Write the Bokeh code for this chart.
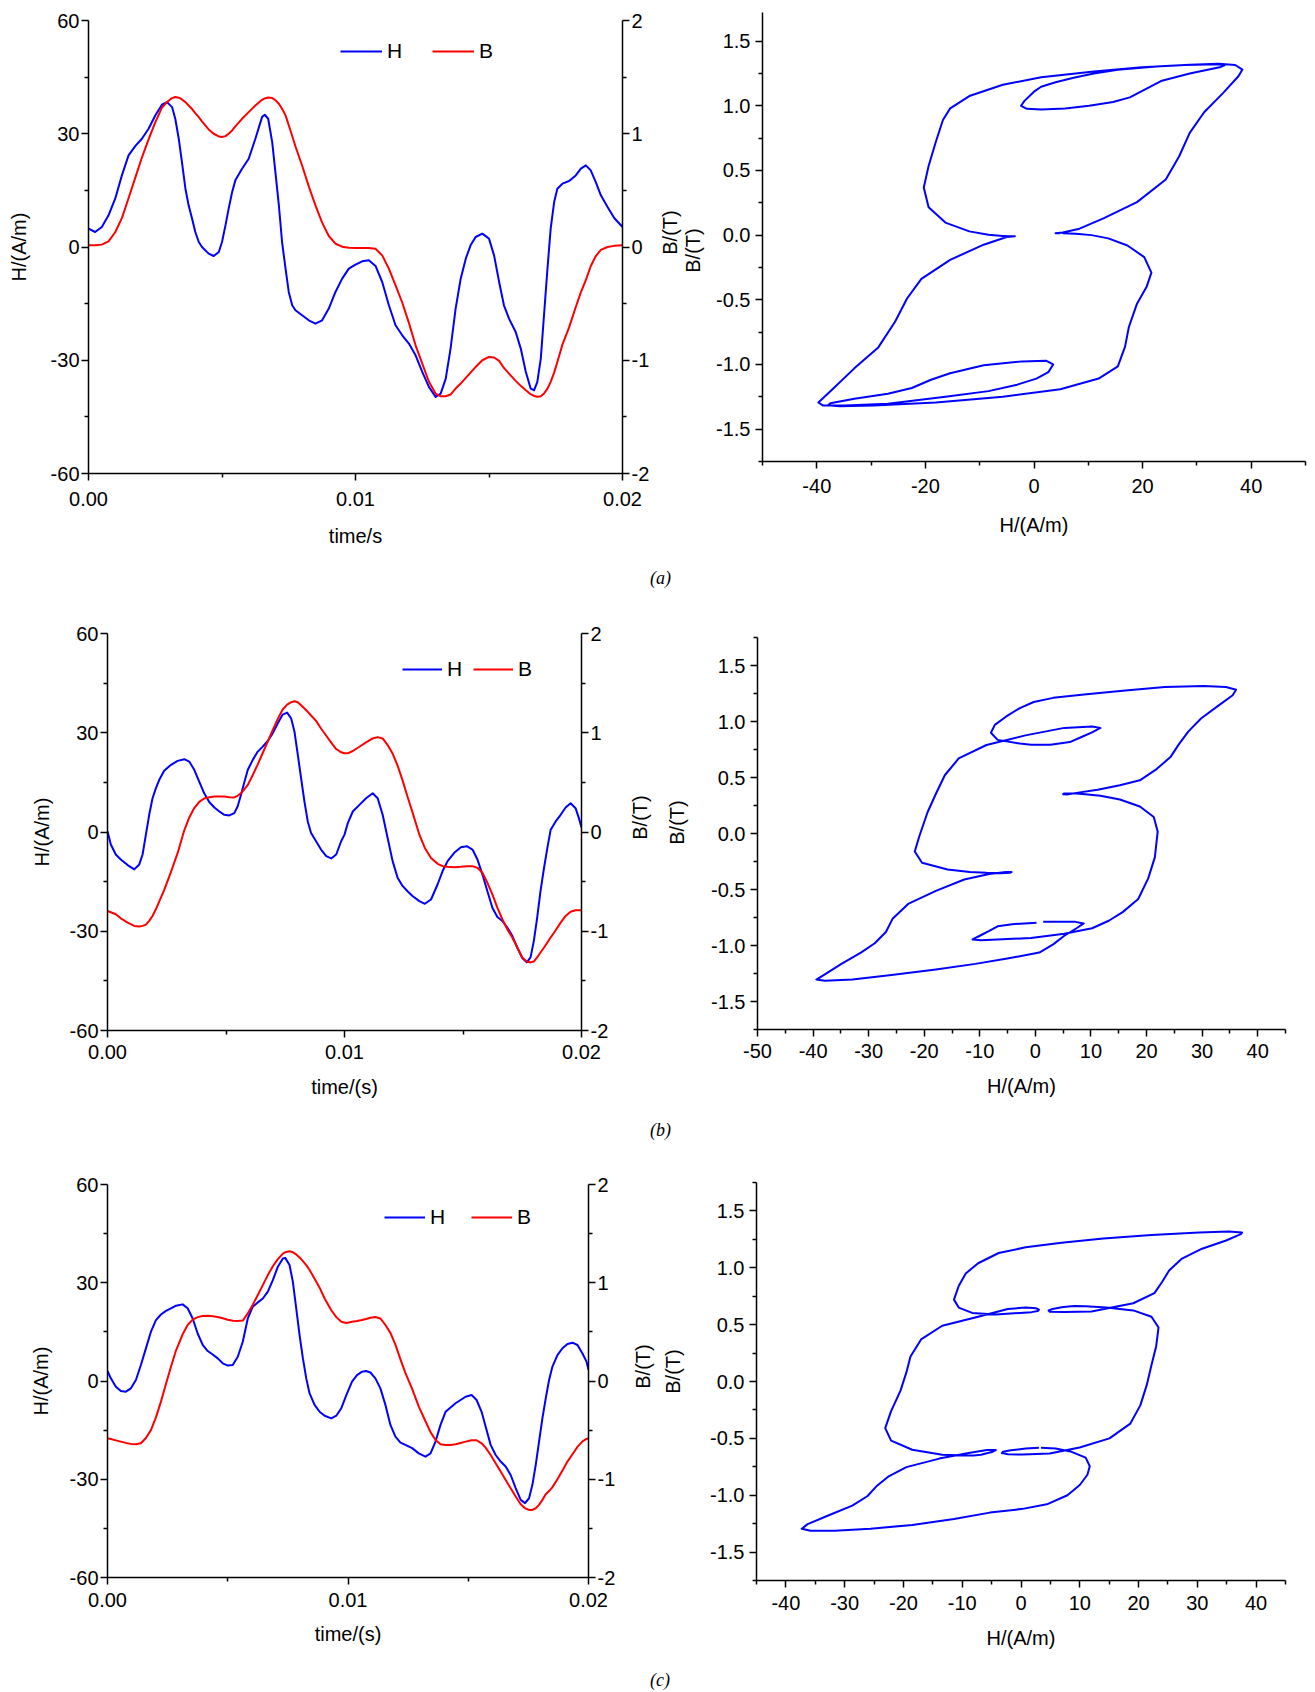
import math
from bokeh.plotting import figure
from bokeh.models import (Range1d, LinearAxis, FixedTicker, PrintfTickFormatter,
                          Legend, LegendItem, Div)
from bokeh.core.properties import value
from bokeh.layouts import row, column
from bokeh.embed import file_html
from bokeh.resources import INLINE

FONT = "Liberation Sans"
BLUE = "#0000FF"
RED = "#FF0000"

# ---------------- data (a) ----------------
t_a = [0.0, 0.00025, 0.0005, 0.00075, 0.001, 0.00125, 0.0015, 0.00175, 0.002, 0.00225,
       0.0025, 0.00275, 0.00294, 0.00313, 0.00325, 0.00338, 0.0035, 0.00363, 0.00375, 0.00388,
       0.004, 0.00413, 0.00425, 0.0045, 0.00469, 0.00488, 0.005, 0.00513, 0.00525, 0.00538,
       0.0055, 0.00575, 0.006, 0.00625, 0.0065, 0.0066, 0.00673, 0.00688, 0.007, 0.00713,
       0.00725, 0.00738, 0.0075, 0.00763, 0.00775, 0.008, 0.00825, 0.0085, 0.00875, 0.009,
       0.00925, 0.0095, 0.00975,
       0.01, 0.01025, 0.0105, 0.01075, 0.011, 0.01125, 0.0115, 0.01175, 0.012, 0.01225,
       0.0125, 0.01275, 0.013, 0.01319, 0.01338, 0.01356, 0.01375, 0.01394, 0.01413, 0.01431,
       0.0145, 0.01475, 0.015, 0.01519, 0.01538, 0.01556, 0.01575, 0.016, 0.01619, 0.01638,
       0.01656, 0.01669, 0.01681, 0.01694, 0.01706, 0.01719, 0.01731, 0.01744, 0.01756, 0.01775,
       0.018, 0.01825, 0.01844, 0.01863, 0.01881, 0.019, 0.01919, 0.01944, 0.01969, 0.02]
H_a = [4.85, 3.97, 5.29, 8.38, 12.79, 18.97, 24.27, 26.74, 28.68, 31.33,
       34.85, 37.68, 38.38, 37.06, 33.97, 28.68, 22.5, 15.44, 11.03, 7.5,
       3.97, 1.32, 0.0, -1.76, -2.38, -1.32, 1.32, 5.74, 10.15, 14.56,
       17.65, 20.74, 23.38, 28.68, 34.41, 35.03, 33.97, 27.8, 19.85, 11.03,
       1.32, -5.74, -11.91, -15.44, -16.77, -18.09, -19.41, -20.3, -19.41, -16.32,
       -11.91, -8.38, -5.74,
       -4.68, -3.79, -3.53, -5.03, -9.27, -15.44, -20.74, -23.38, -25.59, -28.68,
       -33.09, -37.06, -39.71, -38.83, -34.85, -26.91, -16.32, -8.38, -3.09, 0.44,
       2.65, 3.53, 2.21, -2.21, -9.27, -15.44, -18.97, -22.5, -26.91, -33.09,
       -37.5, -37.94, -35.74, -29.56, -18.09, -5.74, 4.85, 11.91, 15.44, 16.77,
       17.47, 18.97, 20.74, 21.62, 20.3, 17.21, 13.68, 10.59, 7.68, 5.29]
B_a = [0.015, 0.015, 0.021, 0.05, 0.13, 0.255, 0.43, 0.61, 0.79, 0.95,
       1.1, 1.23, 1.28, 1.315, 1.325, 1.318, 1.303, 1.279, 1.25, 1.218,
       1.182, 1.147, 1.109, 1.038, 1.0, 0.976, 0.971, 0.979, 1.0, 1.029,
       1.065, 1.132, 1.191, 1.25, 1.3, 1.312, 1.32, 1.315, 1.297, 1.265,
       1.221, 1.162, 1.075, 0.98, 0.89, 0.72, 0.535, 0.368, 0.215, 0.097,
       0.029, 0.003, -0.006,
       -0.009, -0.009, -0.009, -0.015, -0.074, -0.191, -0.338, -0.49, -0.67, -0.868,
       -1.03, -1.19, -1.294, -1.318, -1.318, -1.303, -1.25, -1.206, -1.156, -1.109,
       -1.059, -1.0, -0.971, -0.976, -1.006, -1.068, -1.118, -1.182, -1.226, -1.265,
       -1.3, -1.315, -1.323, -1.318, -1.294, -1.25, -1.191, -1.109, -1.015, -0.862,
       -0.71, -0.53, -0.4, -0.29, -0.17, -0.08, -0.025, 0.0, 0.01, 0.015]

# ---------------- data (b) ----------------
t_b = [0.0, 0.00014, 0.00035, 0.00056, 0.00085, 0.00113, 0.00134, 0.00148, 0.00162, 0.00176,
       0.0019, 0.00204, 0.00218, 0.00239, 0.00268, 0.00296, 0.00324, 0.00345, 0.00366, 0.00387,
       0.00408, 0.0043, 0.00451, 0.00472, 0.00493, 0.00514, 0.00535, 0.00549, 0.00563, 0.00578,
       0.00592, 0.00613, 0.00634, 0.00655, 0.00676, 0.00697, 0.00718, 0.00739, 0.00758, 0.00775,
       0.00789, 0.00803, 0.00817, 0.00831, 0.00845, 0.00859, 0.0088, 0.00901, 0.00923, 0.00944,
       0.00965, 0.00986,
       0.01, 0.01014, 0.01035, 0.01063, 0.01091, 0.01119, 0.0114, 0.01161, 0.01182, 0.01203,
       0.01224, 0.01245, 0.01266, 0.01288, 0.01316, 0.01339, 0.01365, 0.01393, 0.01414, 0.01435,
       0.01463, 0.01491, 0.01516, 0.0154, 0.01561, 0.01582, 0.01603, 0.01624, 0.01645, 0.01666,
       0.01687, 0.01708, 0.01729, 0.0175, 0.01769, 0.01785, 0.01799, 0.01813, 0.01827, 0.01842,
       0.01856, 0.0187, 0.01891, 0.01912, 0.01933, 0.01954, 0.01975, 0.01989, 0.02]
H_b = [0.2, -3.8, -6.8, -8.3, -10.0, -11.3, -9.8, -6.8, -0.8, 5.2,
       10.2, 13.2, 15.7, 18.5, 20.3, 21.5, 22.0, 21.3, 18.8, 15.2,
       11.7, 9.0, 7.4, 6.2, 5.2, 5.0, 5.7, 7.7, 11.2, 15.2,
       18.8, 21.8, 24.3, 25.8, 27.5, 29.8, 32.8, 35.5, 36.1, 34.3,
       30.3, 23.3, 16.2, 9.2, 3.2, -0.3, -2.8, -5.3, -7.3, -8.0,
       -6.8, -2.8,
       -0.8, 2.7, 6.2, 8.2, 10.2, 11.7, 10.2, 5.2, -1.8, -8.8,
       -13.8, -16.3, -17.9, -19.4, -20.9, -21.7, -20.4, -15.8, -11.8, -8.8,
       -6.3, -4.6, -4.3, -5.3, -8.3, -12.8, -17.9, -22.9, -25.7, -26.9,
       -28.9, -31.4, -34.9, -38.1, -39.4, -37.9, -32.9, -25.9, -17.9, -10.8,
       -4.8, 0.7, 3.2, 5.2, 7.4, 8.7, 7.2, 4.2, 1.4]
B_b = [-0.796, -0.809, -0.829, -0.87, -0.913, -0.946, -0.953, -0.946, -0.933, -0.896,
       -0.846, -0.779, -0.702, -0.585, -0.401, -0.211, 0.017, 0.147, 0.241, 0.304,
       0.338, 0.351, 0.358, 0.358, 0.358, 0.351, 0.348, 0.365, 0.391, 0.431,
       0.475, 0.575, 0.682, 0.796, 0.91, 1.027, 1.137, 1.234, 1.284, 1.308,
       1.318, 1.308, 1.277, 1.244, 1.211, 1.174, 1.12, 1.043, 0.97, 0.9,
       0.836, 0.803,
       0.793, 0.793, 0.816, 0.859, 0.903, 0.943, 0.956, 0.943, 0.876, 0.79,
       0.67, 0.52, 0.355, 0.19, -0.027, -0.161, -0.261, -0.321, -0.344, -0.351,
       -0.354, -0.351, -0.344, -0.344, -0.361, -0.411, -0.512, -0.629, -0.762, -0.879,
       -0.98, -1.063, -1.164, -1.264, -1.304, -1.314, -1.304, -1.264, -1.214, -1.164,
       -1.114, -1.063, -0.99, -0.913, -0.846, -0.803, -0.789, -0.789, -0.789]

# ---------------- data (c) ----------------
t_c = [0.0, 0.000139, 0.000347, 0.000556, 0.000764, 0.000972, 0.001181, 0.001389, 0.001597, 0.001806,
       0.002014, 0.002222, 0.002431, 0.002639, 0.002847, 0.003125, 0.003333, 0.003542, 0.00375, 0.003958,
       0.004167, 0.004375, 0.004583, 0.004792, 0.005, 0.005208, 0.005417, 0.005625, 0.005833, 0.006042,
       0.00625, 0.006458, 0.006667, 0.006875, 0.007083, 0.007292, 0.007389, 0.007569, 0.007708, 0.007847,
       0.007986, 0.008125, 0.008264, 0.008403, 0.008611, 0.008819, 0.009028, 0.009306, 0.009514, 0.009722,
       0.009931,
       0.010167, 0.010375, 0.010583, 0.01075, 0.010931, 0.011139, 0.011347, 0.011556, 0.011764, 0.011972,
       0.012181, 0.012389, 0.012667, 0.012944, 0.013222, 0.013431, 0.013639, 0.013847, 0.014056, 0.014264,
       0.014472, 0.014681, 0.014889, 0.015139, 0.015347, 0.015556, 0.015722, 0.015931, 0.016139, 0.016347,
       0.016556, 0.016764, 0.016972, 0.017181, 0.017361, 0.017528, 0.017667, 0.017806, 0.017944, 0.018083,
       0.018222, 0.018361, 0.0185, 0.018708, 0.018917, 0.019125, 0.019333, 0.019542, 0.01975, 0.019917,
       0.02]
H_c = [3.05, 0.81, -1.73, -3.05, -3.25, -2.24, 0.31, 4.88, 9.97, 15.05,
       18.6, 20.3, 21.4, 22.2, 23.0, 23.4, 22.2, 19.1, 14.5, 11.0,
       9.15, 8.1, 6.9, 5.4, 4.7, 4.9, 7.4, 12.0, 19.1, 22.7,
       24.0, 25.2, 27.3, 30.8, 34.9, 37.4, 37.6, 35.4, 30.3, 22.2,
       14.0, 6.9, 0.8, -3.8, -7.3, -9.4, -10.6, -11.4, -10.6, -8.3,
       -4.3,
       -0.2, 1.8, 2.85, 3.05, 2.6, 0.81, -2.24, -7.3, -13.4, -17.0,
       -18.8, -19.5, -20.5, -22.1, -23.1, -22.1, -18.5, -13.4, -9.4, -8.1,
       -6.8, -5.8, -4.8, -4.3, -5.8, -9.4, -13.9, -19.5, -22.6, -24.6,
       -26.1, -28.7, -32.7, -36.3, -37.3, -35.8, -31.7, -25.6, -18.5, -11.4,
       -5.3, 0.3, 4.4, 7.9, 10.0, 11.3, 11.7, 11.0, 8.4, 5.9,
       3.4]
B_c = [-0.583, -0.59, -0.604, -0.617, -0.63, -0.64, -0.643, -0.634, -0.58, -0.5,
       -0.37, -0.21, -0.03, 0.146, 0.31, 0.475, 0.57, 0.625, 0.65, 0.661,
       0.664, 0.66, 0.652, 0.638, 0.624, 0.613, 0.611, 0.615, 0.688, 0.777,
       0.875, 0.976, 1.078, 1.168, 1.24, 1.296, 1.31, 1.32, 1.31, 1.288,
       1.258, 1.22, 1.18, 1.13, 1.04, 0.95, 0.84, 0.72, 0.65, 0.603,
       0.59,
       0.603, 0.61, 0.62, 0.631, 0.644, 0.651, 0.637, 0.57, 0.49, 0.37,
       0.22, 0.08, -0.08, -0.26, -0.41, -0.52, -0.6, -0.644, -0.651, -0.651,
       -0.644, -0.631, -0.617, -0.603, -0.603, -0.634, -0.678, -0.753, -0.837, -0.922,
       -1.007, -1.092, -1.176, -1.254, -1.295, -1.312, -1.312, -1.295, -1.261, -1.21,
       -1.153, -1.12, -1.08, -1.0, -0.91, -0.82, -0.745, -0.67, -0.615, -0.59,
       -0.583]

# ---------------- ticks / labels ----------------
time_ticks = [0.0, 0.01, 0.02]
time_minor = [0.005, 0.015]
H_ticks = [-60, -30, 0, 30, 60]
H_minor = [-45, -15, 15, 45]
B_ticks = [-2, -1, 0, 1, 2]
B_minor = [-1.5, -0.5, 0.5, 1.5]
loopB_ticks = [-1.5, -1.0, -0.5, 0.0, 0.5, 1.0, 1.5]
loopB_minor = [-1.75, -1.25, -0.75, -0.25, 0.25, 0.75, 1.25, 1.75]
loopH_ticks_a = [-40, -20, 0, 20, 40]
loopH_minor_a = [-50, -30, -10, 10, 30, 50]
loopH_ticks_b = [-50, -40, -30, -20, -10, 0, 10, 20, 30, 40]
loopH_minor_b = [-45, -35, -25, -15, -5, 5, 15, 25, 35, 45]
loopH_ticks_c = [-40, -30, -20, -10, 0, 10, 20, 30, 40]
loopH_minor_c = [-45, -35, -25, -15, -5, 5, 15, 25, 35, 45]
B_title = "B/(T)"
H_title = "H/(A/m)"


def style_axis(ax, ticks, minor, fmt, label, std, lstd):
    ax.ticker = FixedTicker(ticks=ticks, minor_ticks=minor)
    ax.formatter = PrintfTickFormatter(format=fmt)
    ax.major_tick_in = 0
    ax.major_tick_out = 7
    ax.minor_tick_in = 0
    ax.minor_tick_out = 4
    ax.major_label_standoff = std
    ax.axis_label = label
    ax.axis_label_standoff = lstd
    ax.major_label_text_font = FONT
    ax.major_label_text_font_size = "20px"
    ax.major_label_text_color = "#000000"
    ax.axis_label_text_font = FONT
    ax.axis_label_text_font_size = "20px"
    ax.axis_label_text_font_style = "normal"
    ax.axis_label_text_color = "#000000"
    ax.axis_line_width = 1.5
    ax.axis_line_color = "#000000"
    ax.major_tick_line_width = 1.5
    ax.minor_tick_line_width = 1.5


def base_fig(w, h, l, r, t, b, xr, yr, mtop, axes=True):
    kw = {} if axes else {"x_axis_type": None, "y_axis_type": None}
    p = figure(width=w, height=h, min_border_left=l, min_border_right=r,
               min_border_top=t, min_border_bottom=b, x_range=xr, y_range=yr,
               output_backend="svg", toolbar_location=None,
               margin=(mtop, 0, 0, 0), **kw)
    p.xgrid.visible = False
    p.ygrid.visible = False
    p.outline_line_color = None
    p.background_fill_color = "white"
    p.border_fill_color = "white"
    return p


def title_strip(x0, x1, ytop, ybot, h, top, bot, texts):
    # narrow strip between the two panels of a row, holding the two vertical "B/(T)" titles;
    # its ranges are page pixels (y negated) so the titles sit where the reference has them
    p = base_fig(x1 - x0, h, 0, 0, top, bot, Range1d(x0, x1), Range1d(-ybot, -ytop), 0,
                 axes=False)
    xs = [tx for tx, ty in texts]
    ys = [-ty for tx, ty in texts]
    p.text(x=xs, y=ys, text=[B_title] * len(texts), angle=math.pi / 2,
           text_align="center", text_baseline="middle", text_font=value(FONT),
           text_font_size="20px", text_color="#000000")
    return p


def time_plot(t, H, B, w, h, l, r, top, bot, mtop, xlabel, xstd, xlstd, hlstd, leg):
    p = base_fig(w, h, l, r, top, bot, Range1d(0, 0.02), Range1d(-60, 60), mtop)
    p.extra_y_ranges = {"B": Range1d(-2, 2)}
    rax = LinearAxis(y_range_name="B")
    p.add_layout(rax, "right")
    style_axis(p.xaxis[0], time_ticks, time_minor, "%.2f", xlabel, xstd, xlstd)
    style_axis(p.yaxis[0], H_ticks, H_minor, "%d", H_title, 2, hlstd)
    style_axis(rax, B_ticks, B_minor, "%d", None, 2, 0)
    rH = p.line(t, H, line_color=BLUE, line_width=2, line_join="round")
    rB = p.line(t, B, line_color=RED, line_width=2, line_join="round", y_range_name="B")
    vx, vy, gw, sp = leg
    legend = Legend(items=[LegendItem(label="H", renderers=[rH]),
                           LegendItem(label="B", renderers=[rB])],
                    location=(vx, vy), orientation="horizontal",
                    glyph_width=gw, glyph_height=20, label_height=20,
                    label_standoff=5, spacing=sp, padding=0, margin=0,
                    border_line_color=None, background_fill_alpha=0,
                    label_text_font=FONT, label_text_font_size="21px",
                    label_text_color="#000000")
    p.add_layout(legend)
    return p


def loop_plot(H, B, w, h, l, r, top, bot, mtop, xr, yr, xt, xm, xstd, xlstd):
    p = base_fig(w, h, l, r, top, bot, Range1d(*xr), Range1d(*yr), mtop)
    style_axis(p.xaxis[0], xt, xm, "%d", H_title, xstd, xlstd)
    style_axis(p.yaxis[0], loopB_ticks, loopB_minor, "%.1f", None, 5, 0)
    p.line(H, B, line_color=BLUE, line_width=2, line_join="round")
    return p


def caption(txt, h, pad_top):
    html = ('<div style="font-family:\'Liberation Serif\',serif;font-style:italic;'
            'font-size:18px;line-height:20px;color:#000;padding-left:650px;'
            'padding-top:%dpx;white-space:nowrap">%s</div>' % (pad_top, txt))
    return Div(text=html, width=1307, height=h, margin=(0, 0, 0, 0))


# row (a): left frame x 88-622, y 20-473 ; strip 657-705 ; right frame x 762-1305, y 12-461
pa1 = time_plot(t_a, H_a, B_a, 657, 552, 88, 35, 12, 87, 8, "time/s", 11, 16, 18,
                (252, 410, 42, 25))
sa = title_strip(657, 705, 12, 461, 548, 12, 87, [(669, 232), (692.5, 250)])
pa2 = loop_plot(H_a, B_a, 602, 548, 57, 2, 12, 87, 0, (-50, 50), (-1.75, 1.721),
                loopH_ticks_a, loopH_minor_a, 10, 18)
# row (b): left frame x 107-581, y 633-1030 ; strip 614-700 ; right frame x 757-1285, y 637-1029
pb1 = time_plot(t_b, H_b, B_b, 614, 515, 107, 33, 38, 80, 0, "time/(s)", 7, 14, 14,
                (295, 349, 40, 6))
sb = title_strip(614, 700, 633, 1030, 515, 38, 80, [(639, 817), (676, 822)])
pb2 = loop_plot(H_b, B_b, 607, 510, 57, 22, 38, 80, 4, (-50, 45), (-1.75, 1.75),
                loopH_ticks_b, loopH_minor_b, 7, 14)
# row (c): left frame x 107-588, y 1184-1577 ; strip 621-699 ; right frame x 756-1285, y 1182-1580
pc1 = time_plot(t_c, H_c, B_c, 621, 509, 107, 33, 36, 80, 2, "time/(s)", 8, 13, 15,
                (277, 348, 41, 21))
sc = title_strip(621, 699, 1182, 1580, 514, 36, 80, [(642, 1366), (672.5, 1371)])
pc2 = loop_plot(H_c, B_c, 608, 514, 57, 22, 36, 80, 0, (-45, 45), (-1.75, 1.75),
                loopH_ticks_c, loopH_minor_c, 8, 14)

layout = column(
    row(pa1, sa, pa2, spacing=0),
    caption("(a)", 35, 8),
    row(pb1, sb, pb2, spacing=0),
    caption("(b)", 36, 10),
    row(pc1, sc, pc2, spacing=0),
    caption("(c)", 32, 10),
    spacing=0,
)

open("out.html", "w").write(file_html(layout, INLINE, title="H and B waveforms"))
